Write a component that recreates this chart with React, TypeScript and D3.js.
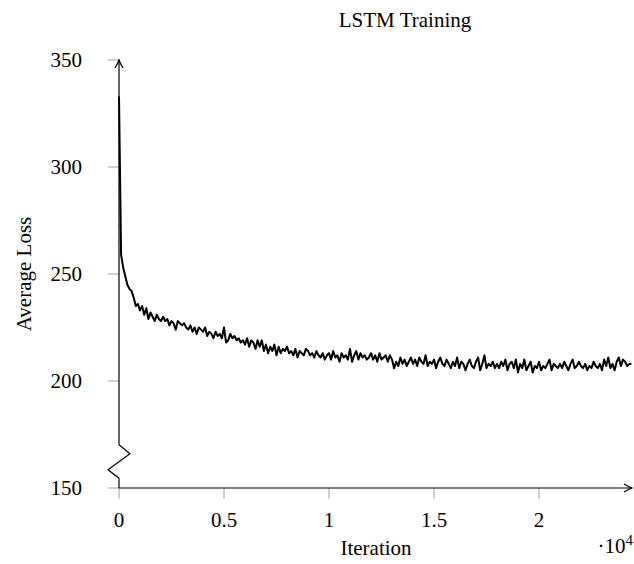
import React, { useRef, useEffect } from "react";
import * as d3 from "d3";

// average loss, one value every 100 iterations
const step = 100;
const lossValues = [
  333, 259, 253, 249, 245, 243, 242, 239, 235, 236,
  233, 235, 231, 234, 229, 232, 230, 228, 231, 229,
  228, 230, 228, 229, 226, 228, 227, 224, 228, 227,
  226, 227, 225, 224, 226, 223, 225, 222, 225, 224,
  223, 225, 221, 223, 222, 220, 223, 221, 222, 220,
  225, 218, 219, 222, 220, 221, 219, 220, 218, 219,
  217, 220, 216, 219, 218, 215, 219, 216, 219, 214,
  217, 213, 216, 214, 217, 212, 216, 213, 215, 214,
  216, 213, 214, 212, 215, 211, 214, 213, 212, 215,
  214, 212, 213, 211, 214, 212, 211, 213, 210, 212,
  213, 210, 214, 211, 212, 209, 213, 211, 212, 210,
  215, 209, 212, 214, 210, 213, 211, 212, 210, 211,
  213, 210, 212, 209, 213, 210, 211, 212, 209, 212,
  210, 206, 209, 207, 211, 208, 210, 207, 209, 211,
  208, 210, 207, 211, 209, 208, 212, 207, 209, 208,
  210, 206, 209, 211, 208, 207, 210, 208, 206, 209,
  207, 211, 206, 209, 208, 205, 208, 210, 207, 206,
  209, 211, 205, 208, 212, 206, 208, 207, 209, 206,
  208, 206, 209, 207, 210, 205, 208, 209, 206, 210,
  204, 208, 206, 210, 205, 207, 209, 204, 207, 206,
  209, 205, 207, 206, 208, 210, 205, 208, 207, 206,
  208, 206, 209, 207, 205, 208, 210, 206, 207, 209,
  207, 206, 208, 205, 207, 206, 209, 207, 206, 208,
  205, 210, 207, 211, 206, 208, 205, 209, 211, 207,
  210, 209, 207, 208, 208,
];

const xTicks = [0, 5000, 10000, 15000, 20000];
const xTickLabels = ["0", "0.5", "1", "1.5", "2"];
const yTicks = [150, 200, 250, 300, 350];

const FONT = "'Liberation Serif', 'Times New Roman', serif";
const FS = 21;

const App = () => {
  const svgRef = useRef(null);

  useEffect(() => {
    document.body.style.margin = "0";
    const data = lossValues.map((v, i) => ({ iter: i * step, loss: v }));

    const svg = d3.select(svgRef.current);
    svg.selectAll("*").remove();
    svg.attr("width", 634).attr("height", 564);

    const x = d3.scaleLinear().domain([0, 24500]).range([119, 633.5]);
    const y = d3.scaleLinear().domain([150, 350]).range([488, 60]);

    const tickColor = "#a0a0a0";

    // y ticks (outside, left)
    svg.append("g")
      .selectAll("line")
      .data(yTicks)
      .enter()
      .append("line")
      .attr("x1", x(0) - 11)
      .attr("x2", x(0))
      .attr("y1", (d) => y(d))
      .attr("y2", (d) => y(d))
      .attr("stroke", tickColor)
      .attr("stroke-width", 1);

    svg.append("g")
      .selectAll("text")
      .data(yTicks)
      .enter()
      .append("text")
      .attr("x", 82)
      .attr("y", (d) => y(d))
      .attr("dy", "0.35em")
      .attr("text-anchor", "end")
      .attr("font-family", FONT)
      .attr("font-size", FS)
      .text((d) => d);

    // x ticks (outside, below)
    svg.append("g")
      .selectAll("line")
      .data(xTicks)
      .enter()
      .append("line")
      .attr("x1", (d) => x(d))
      .attr("x2", (d) => x(d))
      .attr("y1", y(150))
      .attr("y2", y(150) + 11)
      .attr("stroke", tickColor)
      .attr("stroke-width", 1);

    svg.append("g")
      .selectAll("text")
      .data(xTicks)
      .enter()
      .append("text")
      .attr("x", (d) => x(d))
      .attr("y", 527)
      .attr("text-anchor", "middle")
      .attr("font-family", FONT)
      .attr("font-size", FS)
      .text((d, i) => xTickLabels[i]);

    // y axis with break
    const x0 = x(0);
    const breakTop = y(170.2);
    const breakBottom = y(154.6);
    const axisPath = d3.path();
    axisPath.moveTo(x0, y(350));
    axisPath.lineTo(x0, breakTop);
    axisPath.lineTo(x0 + 11, breakTop + 9);
    axisPath.lineTo(x0 - 11, breakTop + 25);
    axisPath.lineTo(x0, breakBottom);
    axisPath.lineTo(x0, y(150));
    svg.append("path")
      .attr("d", axisPath.toString())
      .attr("fill", "none")
      .attr("stroke", "black")
      .attr("stroke-width", 1.2);

    // x axis
    svg.append("line")
      .attr("x1", x0)
      .attr("x2", 632)
      .attr("y1", y(150))
      .attr("y2", y(150))
      .attr("stroke", "black")
      .attr("stroke-width", 1.2);

    // arrow heads
    svg.append("path")
      .attr("d", `M${x0 - 4},${y(350) + 8} Q${x0 - 1},${y(350) + 3} ${x0},${y(350)} Q${x0 + 1},${y(350) + 3} ${x0 + 4},${y(350) + 8}`)
      .attr("fill", "none")
      .attr("stroke", "black")
      .attr("stroke-width", 1.2);
    svg.append("path")
      .attr("d", `M${624},${y(150) - 4} Q${629},${y(150) - 1} ${632},${y(150)} Q${629},${y(150) + 1} ${624},${y(150) + 4}`)
      .attr("fill", "none")
      .attr("stroke", "black")
      .attr("stroke-width", 1.2);

    // loss curve
    const line = d3
      .line()
      .x((d) => x(d.iter))
      .y((d) => y(d.loss));

    svg.append("path")
      .datum(data)
      .attr("d", line)
      .attr("fill", "none")
      .attr("stroke", "black")
      .attr("stroke-width", 2)
      .attr("stroke-linejoin", "round");

    // title and labels
    svg.append("text")
      .attr("x", 405)
      .attr("y", 27)
      .attr("text-anchor", "middle")
      .attr("font-family", FONT)
      .attr("font-size", FS)
      .text("LSTM Training");

    svg.append("text")
      .attr("x", 376)
      .attr("y", 555)
      .attr("text-anchor", "middle")
      .attr("font-family", FONT)
      .attr("font-size", FS)
      .text("Iteration");

    const exp = svg.append("text")
      .attr("x", 633)
      .attr("y", 553)
      .attr("text-anchor", "end")
      .attr("font-family", FONT)
      .attr("font-size", FS);
    exp.append("tspan").text("\u00b710");
    exp.append("tspan").attr("dy", -8).attr("font-size", 15).text("4");

    svg.append("text")
      .attr("transform", `translate(31, ${y(250)}) rotate(-90)`)
      .attr("text-anchor", "middle")
      .attr("font-family", FONT)
      .attr("font-size", FS)
      .text("Average Loss");
  }, []);

  return <svg ref={svgRef} style={{ display: "block" }}></svg>;
};

export default App;
